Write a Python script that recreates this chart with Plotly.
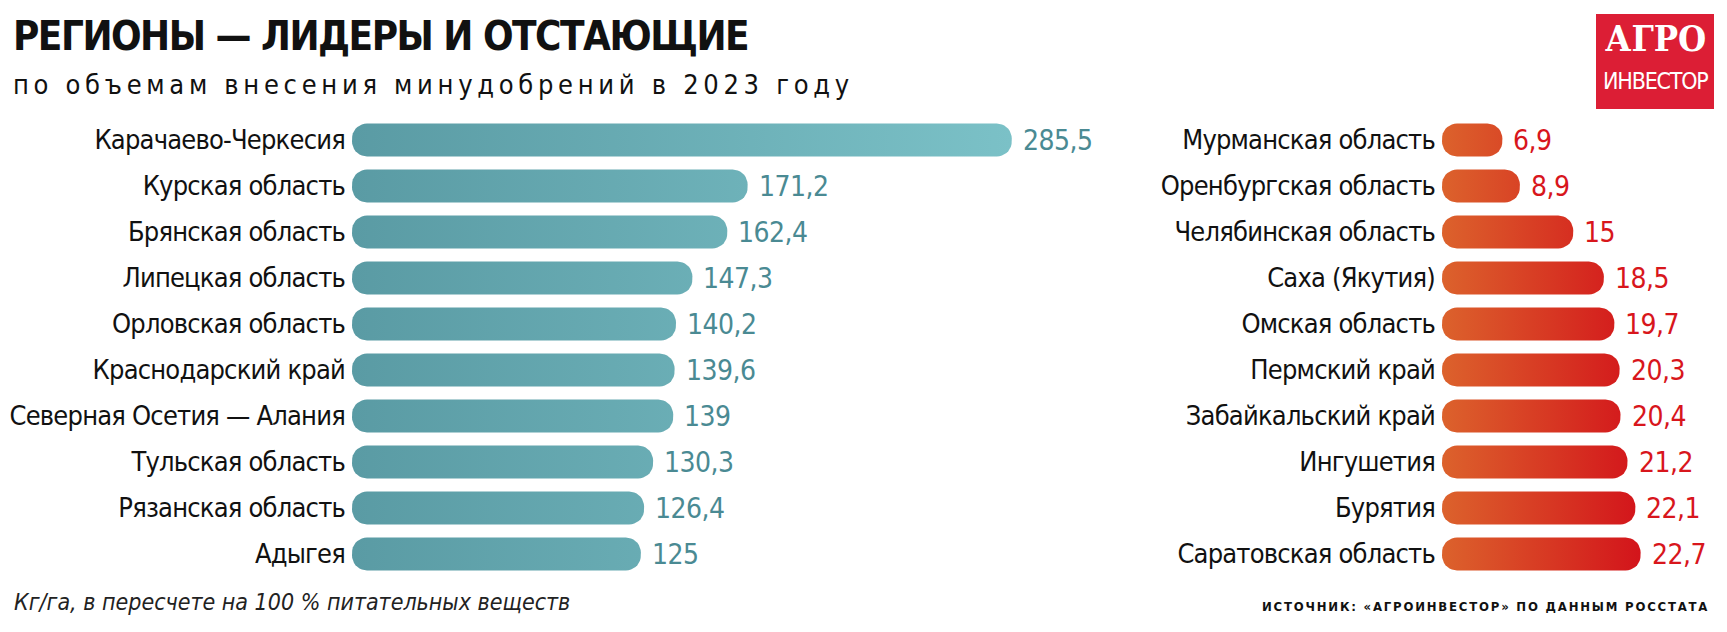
import numpy as np
import plotly.graph_objects as go

# ---------------- data ----------------
left_regions = ["Карачаево-Черкесия", "Курская область", "Брянская область", "Липецкая область",
                "Орловская область", "Краснодарский край", "Северная Осетия — Алания",
                "Тульская область", "Рязанская область", "Адыгея"]
left_values = [285.5, 171.2, 162.4, 147.3, 140.2, 139.6, 139, 130.3, 126.4, 125]

right_regions = ["Мурманская область", "Оренбургская область", "Челябинская область", "Саха (Якутия)",
                 "Омская область", "Пермский край", "Забайкальский край", "Ингушетия",
                 "Бурятия", "Саратовская область"]
right_values = [6.9, 8.9, 15, 18.5, 19.7, 20.3, 20.4, 21.2, 22.1, 22.7]

title = "РЕГИОНЫ — ЛИДЕРЫ И ОТСТАЮЩИЕ"
subtitle = "по объемам внесения минудобрений в 2023 году"
footnote = "Кг/га, в пересчете на 100 % питательных веществ"
source = "ИСТОЧНИК: «АГРОИНВЕСТОР» ПО ДАННЫМ РОССТАТА"

# ---------------- layout geometry ----------------
W, H = 1727, 632
FONT = "Liberation Sans Narrow, DejaVu Sans Condensed, Roboto, sans-serif"

def px(x):
    return x / W

def py(y):
    return 1 - y / H

def spaced(text, ls):
    return '<span style="letter-spacing:%spx">%s</span>' % (ls, text)

# left axis: zero at 352 px, 2.311 px per unit
L0, LEND, LS = 352, 1100, 2.311
# right axis: zero at 1442 px, 8.75 px per unit
R0, REND, RS = 1442, 1727, 8.75
# rows: centre of first row at 140 px, pitch 46 px
ROW0, PITCH = 140, 46
Y_TOP = ROW0 - 0.5 * PITCH
Y_BOT = ROW0 + 9.5 * PITCH
BAR_H = 33 / PITCH
RADIUS = 15

def fmt(v):
    s = ("%.1f" % v).rstrip("0").rstrip(".")
    return s.replace(".", ",")

def rounded_bar(v, yc, h, rpx, sx, sy, n=10):
    half = h / 2
    rx = min(rpx / sx, v / 2)
    ry = rpx / sy
    xs, ys = [], []
    corners = [((v - rx, yc - half + ry), -90, 0),
               ((v - rx, yc + half - ry), 0, 90),
               ((rx, yc + half - ry), 90, 180),
               ((rx, yc - half + ry), 180, 270)]
    for (cx, cy), a0, a1 in corners:
        t = np.radians(np.linspace(a0, a1, n))
        xs.extend(cx + rx * np.cos(t))
        ys.extend(cy + ry * np.sin(t))
    xs.append(xs[0]); ys.append(ys[0])
    return xs, ys

fig = go.Figure()

left_scale = [[0, "#5a9ba4"], [1, "#7bc1c7"]]
right_scale = [[0, "#dc622c"], [1, "#d3141b"]]

for i, v in enumerate(left_values):
    xs, ys = rounded_bar(v, i, BAR_H, RADIUS, LS, PITCH)
    fig.add_trace(go.Scatter(x=xs, y=ys, xaxis="x", yaxis="y", mode="lines", fill="toself",
                             line=dict(width=0), hoverinfo="skip", showlegend=False,
                             fillgradient=dict(type="horizontal", colorscale=left_scale,
                                               start=0, stop=max(left_values))))
for i, v in enumerate(right_values):
    xs, ys = rounded_bar(v, i, BAR_H, RADIUS, RS, PITCH)
    fig.add_trace(go.Scatter(x=xs, y=ys, xaxis="x2", yaxis="y2", mode="lines", fill="toself",
                             line=dict(width=0), hoverinfo="skip", showlegend=False,
                             fillgradient=dict(type="horizontal", colorscale=right_scale,
                                               start=0, stop=max(right_values))))

annotations = []
for i, v in enumerate(left_values):
    annotations.append(dict(x=v, y=i, xref="x", yref="y", text=spaced(fmt(v), -0.5), showarrow=False,
                            xanchor="left", yanchor="middle", xshift=9,
                            font=dict(family=FONT, size=28, color="#4a8a93")))
for i, v in enumerate(right_values):
    annotations.append(dict(x=v, y=i, xref="x2", yref="y2", text=spaced(fmt(v), -0.5), showarrow=False,
                            xanchor="left", yanchor="middle", xshift=9,
                            font=dict(family=FONT, size=28, color="#d8161c")))

annotations += [
    dict(x=px(11), y=py(36), xref="paper", yref="paper", xanchor="left", yanchor="middle",
         text="<b>" + spaced(title, -1.5) + "</b>", showarrow=False,
         font=dict(family=FONT, size=40, color="#111111")),
    dict(x=px(11), y=py(84), xref="paper", yref="paper", xanchor="left", yanchor="middle",
         text=spaced(subtitle, 4.7), showarrow=False,
         font=dict(family=FONT, size=27, color="#111111")),
    dict(x=px(12), y=py(602), xref="paper", yref="paper", xanchor="left", yanchor="middle",
         text="<i>" + footnote + "</i>", showarrow=False,
         font=dict(family=FONT, size=23, color="#222222")),
    dict(x=px(1711), y=py(606), xref="paper", yref="paper", xanchor="right", yanchor="middle",
         text="<b>" + spaced(source, 1.8) + "</b>", showarrow=False,
         font=dict(family=FONT, size=13, color="#111111")),
    # logo
    dict(x=px(1655), y=py(38), xref="paper", yref="paper", xanchor="center", yanchor="middle",
         text="<b>АГРО</b>", showarrow=False,
         font=dict(family="DejaVu Serif Condensed, Liberation Serif, serif", size=36, color="#ffffff")),
    dict(x=px(1655), y=py(81), xref="paper", yref="paper", xanchor="center", yanchor="middle",
         text=spaced("ИНВЕСТОР", -1.2), showarrow=False,
         font=dict(family=FONT, size=23, color="#ffffff")),
]

shapes = [dict(type="rect", xref="paper", yref="paper", x0=px(1596), x1=px(1714),
               y0=py(109), y1=py(14), fillcolor="#dc1e35", line=dict(width=0), layer="below")]

axis_common = dict(showgrid=False, zeroline=False, showline=False, fixedrange=True, automargin=False)
fig.update_layout(
    width=W, height=H, autosize=False,
    margin=dict(l=0, r=0, t=0, b=0, pad=0, autoexpand=False),
    paper_bgcolor="white", plot_bgcolor="white",
    xaxis=dict(domain=[px(L0), px(LEND)], range=[0, (LEND - L0) / LS], showticklabels=False,
               anchor="y", **axis_common),
    yaxis=dict(domain=[py(Y_BOT), py(Y_TOP)], range=[9.5, -0.5], tickmode="array",
               tickvals=list(range(10)), ticktext=[spaced(t, -0.8) for t in left_regions],
               ticks="", anchor="x",
               ticklabelstandoff=6, tickfont=dict(family=FONT, size=27, color="#111111"),
               **axis_common),
    xaxis2=dict(domain=[px(R0), px(REND)], range=[0, (REND - R0) / RS], showticklabels=False,
                anchor="y2", **axis_common),
    yaxis2=dict(domain=[py(Y_BOT), py(Y_TOP)], range=[9.5, -0.5], tickmode="array",
                tickvals=list(range(10)), ticktext=[spaced(t, -0.8) for t in right_regions],
                ticks="", anchor="x2",
                ticklabelstandoff=6, tickfont=dict(family=FONT, size=27, color="#111111"),
                **axis_common),
    annotations=annotations,
    shapes=shapes,
)

fig.write_html("out.html")
